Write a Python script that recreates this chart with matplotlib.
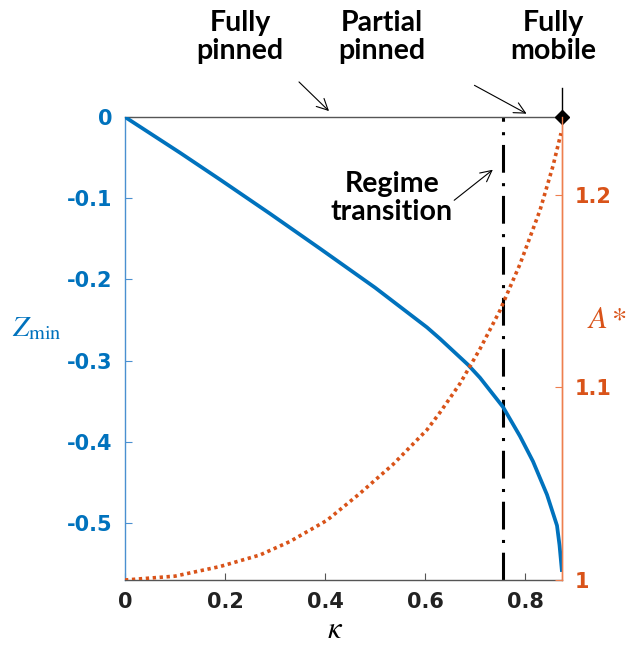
import matplotlib
matplotlib.use("Agg")
import matplotlib.pyplot as plt

plt.rcParams['axes.unicode_minus'] = False
plt.rcParams['lines.scale_dashes'] = False
plt.rcParams['mathtext.fontset'] = 'stix'

# values
kappa_z = [0, 0.11, 0.19, 0.29, 0.39, 0.50, 0.604, 0.63, 0.686, 0.71, 0.756,
           0.79, 0.816, 0.844, 0.864, 0.869, 0.874]
z_min = [0, -0.044, -0.077, -0.119, -0.162, -0.210, -0.259, -0.273, -0.305, -0.321, -0.357,
         -0.393, -0.424, -0.465, -0.503, -0.527, -0.560]

kappa_a = [0, 0.1, 0.19, 0.27, 0.33, 0.404, 0.47, 0.536, 0.604, 0.63, 0.67, 0.71,
           0.75, 0.79, 0.83, 0.856, 0.872]
a_star = [1.0, 1.002, 1.007, 1.013, 1.020, 1.031, 1.045, 1.060, 1.078, 1.087, 1.102, 1.120,
          1.140, 1.164, 1.192, 1.215, 1.232]

kappa_end = 0.874
kappa_transition = 0.756
z_ticks = [0, -0.1, -0.2, -0.3, -0.4, -0.5]
z_tick_labels = ['0', '-0.1', '-0.2', '-0.3', '-0.4', '-0.5']
a_ticks = [1, 1.1, 1.2]
a_tick_labels = ['1', '1.1', '1.2']
k_ticks = [0, 0.2, 0.4, 0.6, 0.8]
k_tick_labels = ['0', '0.2', '0.4', '0.6', '0.8']

blue = '#0072BD'
orange = '#D95319'
blue_axis = '#4A90D0'
orange_axis = '#EE7F4E'
gray = '#555555'

fig = plt.figure(figsize=(6.26, 6.64), dpi=100)
ax = fig.add_axes([125 / 626, 1 - 580 / 664, 437 / 626, 463 / 664])
ax2 = ax.twinx()

ax.plot(kappa_z, z_min, color=blue, lw=2.7, zorder=3, solid_capstyle='butt',
        solid_joinstyle='round')
ax2.plot(kappa_a, a_star, color=orange, lw=2.6, linestyle=(0, (2.4, 2.6)),
         dash_capstyle='butt', zorder=3)
ax.axvline(kappa_transition, color='black', lw=2.2,
           linestyle=(0, (20, 7, 2.2, 7.5)), zorder=2)

ax.set_xlim(0, kappa_end)
ax.set_ylim(-0.570, 0)
ax2.set_ylim(1, 1.2404)

ax.set_xticks(k_ticks)
ax.set_xticklabels(k_tick_labels)
ax.set_yticks(z_ticks)
ax.set_yticklabels(z_tick_labels)
ax2.set_yticks(a_ticks)
ax2.set_yticklabels(a_tick_labels)

tick_font = dict(family='DejaVu Sans', weight='bold', size=15)
for lab in ax.get_xticklabels():
    lab.set(**tick_font, color='#222222')
for lab in ax.get_yticklabels():
    lab.set(**tick_font, color=blue)
for lab in ax2.get_yticklabels():
    lab.set(**tick_font, color=orange)

ax.tick_params(axis='x', direction='in', length=5, width=0.8, color=gray, pad=9, top=False)
ax.tick_params(axis='y', direction='in', length=5, width=0.8, color=blue_axis, pad=9)
ax2.tick_params(axis='y', direction='in', length=5, width=0.8, color=orange_axis, pad=9)

for a in (ax, ax2):
    a.spines['left'].set_color(blue_axis)
    a.spines['right'].set_color(orange_axis)
    a.spines['bottom'].set_color(gray)
    a.spines['top'].set_color(gray)
    for s in a.spines.values():
        s.set_linewidth(1.0)
ax2.spines['left'].set_visible(False)
ax2.spines['bottom'].set_visible(False)
ax2.spines['top'].set_visible(False)

# fully mobile end point
ax.plot([kappa_end, kappa_end], [0, 0.036], color='black', lw=1, clip_on=False, zorder=5)
ax.plot([kappa_end], [0], marker='D', color='black', ms=7, clip_on=False, zorder=6)

# axis labels
fig.text(37 / 626, 1 - 328 / 664, r'$Z_{\mathrm{min}}$', color=blue, fontsize=21,
         ha='center', va='center')
fig.text(607 / 626, 1 - 320 / 664, r'$A*$', color=orange, fontsize=22,
         ha='center', va='center')
fig.text(335 / 626, 1 - 630 / 664, r'$\kappa$', color='black', fontsize=22,
         ha='center', va='center')

# annotations
note_font = dict(family='Lato', weight='bold', size=20.5, color='black',
                 ha='center', va='center', linespacing=1.08)
arrow = dict(arrowstyle='->', color='black', lw=0.8, mutation_scale=20)


def fig_xy(px, py):
    return (px / 626, 1 - py / 664)


fig.text(*fig_xy(240, 37), 'Fully\npinned', **note_font)
fig.text(*fig_xy(382, 37), 'Partial\npinned', **note_font)
fig.text(*fig_xy(553, 37), 'Fully\nmobile', **note_font)
fig.text(*fig_xy(392, 198), 'Regime\ntransition', **note_font)

ax.annotate('', xy=fig_xy(331, 113), xytext=fig_xy(297, 80),
            xycoords='figure fraction', textcoords='figure fraction', arrowprops=arrow)
ax.annotate('', xy=fig_xy(529, 115), xytext=fig_xy(472, 84),
            xycoords='figure fraction', textcoords='figure fraction', arrowprops=arrow)
ax.annotate('', xy=fig_xy(495, 168), xytext=fig_xy(452, 202),
            xycoords='figure fraction', textcoords='figure fraction', arrowprops=arrow)

fig.savefig('out.png', dpi=100)
